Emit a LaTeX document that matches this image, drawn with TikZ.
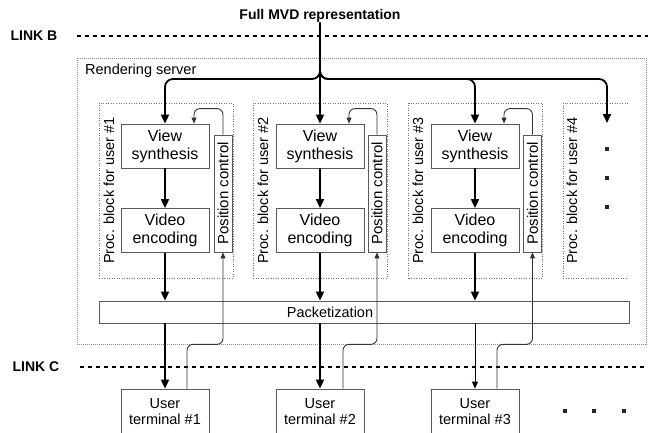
\documentclass[tikz,border=0pt]{standalone}
\usepackage{fontspec}
\setmainfont{Liberation Sans}
\usetikzlibrary{arrows.meta}

\tikzset{
  blk/.style={draw=black!65, fill=white, line width=0.8pt, minimum width=88pt, minimum height=44pt,
    inner sep=0pt, align=center, font=\fontsize{16}{18}\selectfont},
  term/.style={blk, minimum height=46pt, font=\fontsize{14.5}{16}\selectfont},
  posctl/.style={draw=black!65, fill=white, line width=0.8pt, rotate=90, minimum width=117pt,
    minimum height=18pt, inner sep=0pt, font=\fontsize{15}{17}\selectfont},
  procbox/.style={draw=black!55, dash pattern=on 1pt off 1.5pt, line width=0.7pt,
    minimum width=134pt, minimum height=175pt, inner sep=0pt},
  proclab/.style={rotate=90, inner sep=0pt, font=\fontsize{14.5}{17}\selectfont},
  lab/.style={inner sep=0pt, font=\fontsize{14.5}{17}\selectfont},
  flow/.style={line width=1.8pt, -{Triangle[length=9pt,width=8pt]}},
  thinflow/.style={line width=1pt, -{Triangle[length=7pt,width=6pt]}},
  fb/.style={line width=0.9pt, draw=black!80, rounded corners=6pt, -{Triangle[length=6pt,width=5pt]}},
  linkline/.style={line width=1.3pt, dash pattern=on 4pt off 4pt},
  linklab/.style={inner sep=0pt, font=\bfseries\fontsize{14}{16}\selectfont},
  sqdot/.style={fill=black!85, minimum size=4pt, inner sep=0pt},
}

\begin{document}
\begin{tikzpicture}[x=1pt, y=-1pt]
  \clip (0,0) rectangle (648,432);
  % Input and links
  \node[linklab] (mvd) at (320,16) {Full MVD representation};
  \node[linklab] (linkb) at (34,36) {LINK B};
  \node[linklab] (linkc) at (36,367) {LINK C};
  \draw[linkline] (77,36) -- (648,36);
  \draw[linkline] (80,367) -- (648,367);
  % Rendering server
  \node[draw=black!45, dash pattern=on 1pt off 1pt, line width=0.7pt, minimum width=569pt,
    minimum height=286pt, inner sep=0pt] (server) at (361.5,201) {};
  \node[lab, anchor=west] (srvlab) at (85,71) {Rendering server};
  % Processing blocks
  \node[procbox] (pb1) at (166,190.5) {};
  \node[procbox] (pb2) at (320,190.5) {};
  \node[procbox] (pb3) at (475.5,190.5) {};
  \draw[draw=black!55, dash pattern=on 1pt off 1.5pt, line width=0.7pt] (628,103) -| (563,278) -- (628,278);
  \node[proclab] (pl1) at (109,190.5) {Proc. block for user \#1};
  \node[proclab] (pl2) at (263,190.5) {Proc. block for user \#2};
  \node[proclab] (pl3) at (418,190.5) {Proc. block for user \#3};
  \node[proclab] (pl4) at (572,190.5) {Proc. block for user \#4};
  % View synthesis / video encoding
  \node[blk] (vs1) at (165,146) {View\\synthesis};
  \node[blk] (ve1) at (165,230.5) {Video\\encoding};
  \node[blk] (vs2) at (320,146) {View\\synthesis};
  \node[blk] (ve2) at (320,230.5) {Video\\encoding};
  \node[blk] (vs3) at (475,146) {View\\synthesis};
  \node[blk] (ve3) at (475,230.5) {Video\\encoding};
  % Position control
  \node[posctl] (pc1) at (223,193.5) {Position control};
  \node[posctl] (pc2) at (377,193.5) {Position control};
  \node[posctl] (pc3) at (532.5,193.5) {Position control};
  % Packetization
  \node[draw=black!65, line width=0.8pt, minimum width=530pt, minimum height=22pt, inner sep=0pt] (pack) at (364,312) {};
  \node[lab] (packlab) at (330,312) {Packetization};
  % User terminals
  \node[term] (t1) at (165,412) {User\\terminal \#1};
  \node[term] (t2) at (320,412) {User\\terminal \#2};
  \node[term] (t3) at (475,412) {User\\terminal \#3};
  % Dots
  \node[sqdot] (v1) at (607,149) {};
  \node[sqdot] (v2) at (607,178) {};
  \node[sqdot] (v3) at (607,207) {};
  \node[sqdot] (h1) at (565,411) {};
  \node[sqdot] (h2) at (594,411) {};
  \node[sqdot] (h3) at (624,411) {};
  % Distribution of the input
  \coordinate (split) at (320,79);
  \coordinate (a4) at (607,123);
  \draw[flow, rounded corners=8pt] (mvd.south) |- (split -| vs1.north) -- (vs1.north);
  \draw[flow] (mvd.south) -- (vs2.north);
  \draw[flow, rounded corners=8pt] (mvd.south) |- (split -| vs3.north) -- (vs3.north);
  \draw[flow, rounded corners=8pt] (mvd.south) |- (split -| a4) -- (a4);
  % Main flow
  \draw[flow] (vs1) -- (ve1);
  \draw[flow] (vs2) -- (ve2);
  \draw[flow] (vs3) -- (ve3);
  \draw[flow] (ve1) -- (ve1 |- pack.north);
  \draw[flow] (ve2) -- (ve2 |- pack.north);
  \draw[flow] (ve3) -- (ve3 |- pack.north);
  \draw[flow] (ve1 |- pack.south) -- (t1.north);
  \draw[flow] (ve2 |- pack.south) -- (t2.north);
  \draw[thinflow] (ve3 |- pack.south) -- (t3.north);
  % Feedback
  \draw[fb] (pc1.east) -- ++(0,-26) -| ([xshift=29pt]vs1.north);
  \draw[fb] (pc2.east) -- ++(0,-26) -| ([xshift=29pt]vs2.north);
  \draw[fb] (pc3.east) -- ++(0,-26) -| ([xshift=29pt]vs3.north);
  \draw[fb] ([xshift=22pt]t1.north) |- (pc1.west |- server.south) -- (pc1.west);
  \draw[fb] ([xshift=23pt]t2.north) |- (pc2.west |- server.south) -- (pc2.west);
  \draw[fb] ([xshift=22pt]t3.north) |- (pc3.west |- server.south) -- (pc3.west);
\end{tikzpicture}
\end{document}
